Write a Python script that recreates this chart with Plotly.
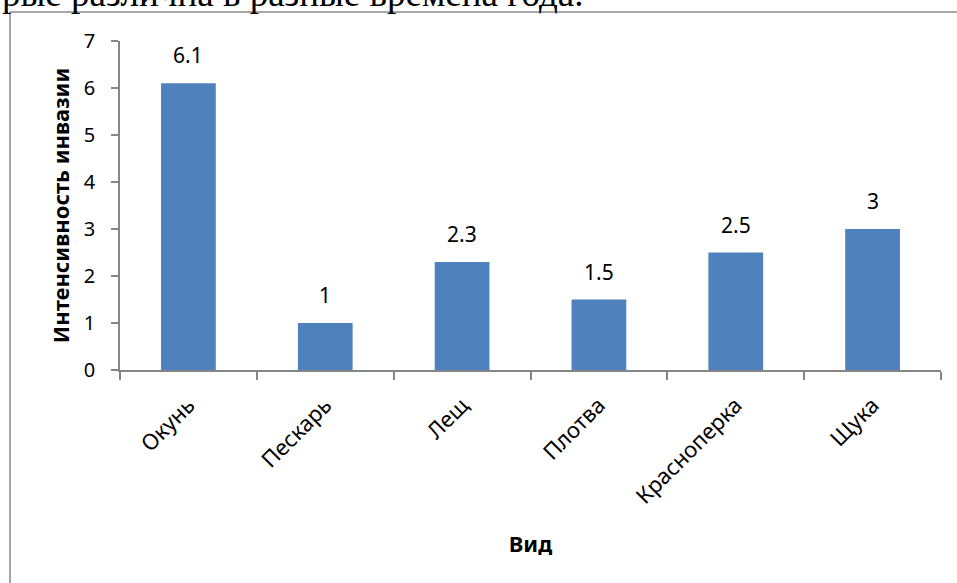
import plotly.graph_objects as go

categories = ["Окунь", "Пескарь", "Лещ", "Плотва", "Красноперка", "Щука"]
values = [6.1, 1, 2.3, 1.5, 2.5, 3]
value_labels = ["6.1", "1", "2.3", "1.5", "2.5", "3"]
y_ticks = [0, 1, 2, 3, 4, 5, 6, 7]

W, H = 957, 583
ML, MR, MT, MB = 120, 16, 41, 213
pw = W - ML - MR
ph = H - MT - MB

def px_x(p):
    return (p - ML) / pw

def px_y(p):
    return 1 + (MT - p) / ph

fnt = "Noto Sans"
fig = go.Figure()
fig.add_trace(go.Bar(x=categories, y=values, marker=dict(color="#4F81BD", line=dict(width=0)),
                     width=0.4, hoverinfo="skip"))

for c, v, t in zip(categories, values, value_labels):
    fig.add_annotation(x=c, y=v, text=t, showarrow=False, yanchor="bottom", yshift=12,
                       font=dict(family=fnt, size=21, color="#000000"))

# cropped document text and frame
fig.add_annotation(xref="paper", yref="paper", x=px_x(0), y=px_y(16), xanchor="left", yanchor="bottom",
                   text="рые различна в разные времена года.", showarrow=False,
                   font=dict(family="Liberation Serif", size=37, color="#000000"))
fig.add_shape(type="line", xref="paper", yref="paper", x0=px_x(10), x1=px_x(10), y0=px_y(12), y1=px_y(590),
              line=dict(color="#8a8a8a", width=1.5))
fig.add_shape(type="line", xref="paper", yref="paper", x0=px_x(10), x1=px_x(960), y0=px_y(12), y1=px_y(12),
              line=dict(color="#8a8a8a", width=1.5))

fig.update_layout(
    width=W, height=H, margin=dict(l=ML, r=MR, t=MT, b=MB),
    paper_bgcolor="white", plot_bgcolor="white", showlegend=False,
    font=dict(family=fnt, color="#000000"),
    xaxis=dict(showline=True, linecolor="#868686", linewidth=1.5, ticks="outside", ticklen=8,
               tickcolor="#868686", tickwidth=1.5, tickson="boundaries", tickangle=-45,
               tickfont=dict(family=fnt, size=22), showgrid=False, ticklabelstandoff=12,
               title=dict(text="<b>Вид</b>", font=dict(family=fnt, size=22), standoff=28)),
    yaxis=dict(range=[0, 7], tickvals=y_ticks, showline=True, linecolor="#868686", linewidth=1.5,
               ticks="outside", ticklen=7, tickcolor="#868686", tickwidth=1.5, showgrid=False,
               zeroline=False, tickfont=dict(family=fnt, size=20), ticklabelstandoff=12,
               title=dict(text="<b>Интенсивность инвазии</b>", font=dict(family=fnt, size=22), standoff=8)),
)
fig.write_html("out.html")
